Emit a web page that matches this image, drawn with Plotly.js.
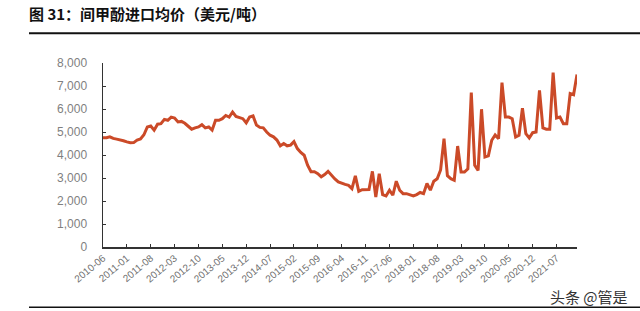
<!DOCTYPE html>
<html>
<head>
<meta charset="utf-8">
<script src="https://cdn.plot.ly/plotly-3.0.1.min.js"></script>
<style>html,body{margin:0;padding:0;background:#fff;}#chart{width:640px;height:311px;}</style>
</head>
<body>
<div id="chart"></div>
<script>
// Monthly series starting 2010-06
const startYear = 2010, startMonth = 6;
const prices = [
  4750, 4750, 4790, 4720, 4690, 4670, 4620, 4570, 4530, 4540,
  4650, 4700, 4880, 5220, 5260, 5080, 5340, 5360, 5550, 5510,
  5650, 5610, 5440, 5460, 5380, 5250, 5120, 5180, 5220, 5320,
  5180, 5220, 5080, 5510, 5510, 5580, 5720, 5650, 5870, 5680,
  5620, 5580, 5400, 5650, 5700, 5300, 5200, 5180, 5000, 4860,
  4790, 4650, 4400, 4500, 4400, 4430, 4580, 4280, 4110, 3990,
  3560, 3270, 3270, 3190, 3050, 3150, 3290, 3120, 2960, 2830,
  2760, 2720, 2680, 2540, 3090, 2420, 2490, 2490, 2500, 3290,
  2170, 3190, 2280, 2220, 2470, 2250, 2860, 2470, 2320, 2320,
  2280, 2220, 2280, 2370, 2320, 2760, 2470, 2860, 2970, 3350,
  4710, 3100, 2970, 2900, 4390, 3260, 3260, 3400, 6710, 3550,
  3330, 5990, 3910, 3960, 4640, 4870, 4710, 7150, 5650, 5650,
  5580, 4780, 4860, 6040, 4930, 4740, 4970, 5000, 6810, 5180,
  5120, 5120, 7580, 5610, 5650, 5360, 5360, 6670, 6620, 7500
];
const tickLabels = ["2010-06","2011-01","2011-08","2012-03","2012-10","2013-05","2013-12","2014-07","2015-02","2015-09","2016-04","2016-11","2017-06","2018-01","2018-08","2019-03","2019-10","2020-05","2020-12","2021-07"];
const yTicks = [0,1000,2000,3000,4000,5000,6000,7000,8000];

const months = [];
for (let i = 0; i < prices.length; i++) {
  const m = startMonth - 1 + i;
  const y = startYear + Math.floor(m / 12);
  const mm = (m % 12) + 1;
  months.push(y + "-" + (mm < 10 ? "0" + mm : "" + mm));
}

const L = 103, R = 577, T = 62.7, B = 246.7;
const W = 640, H = 311;
const px = v => (v - L) / (R - L);
const py = v => (B - v) / (B - T);

const trace = {
  x: months, y: prices, type: 'scatter', mode: 'lines',
  line: {color: '#CB4A28', width: 3}, hoverinfo: 'skip'
};

const layout = {
  width: W, height: H,
  margin: {l: L, r: W - R, t: T, b: H - B},
  paper_bgcolor: '#fff', plot_bgcolor: '#fff',
  showlegend: false,
  font: {family: 'Liberation Sans, Arial, sans-serif'},
  title: {
    text: '<b>图 31：间甲酚进口均价（美元/吨）</b>',
    font: {family: 'Noto Sans CJK SC', size: 15, color: '#111'},
    x: 29 / W, xanchor: 'left', xref: 'container',
    y: 1 - 15 / H, yanchor: 'middle', yref: 'container'
  },
  xaxis: {
    type: 'category', categoryorder: 'array', categoryarray: months,
    range: [0, prices.length - 1],
    tickmode: 'array', tickvals: tickLabels, ticktext: tickLabels,
    showgrid: false, zeroline: false,
    showline: true, linecolor: '#333', linewidth: 1.5,
    ticks: 'inside', ticklen: 3, tickcolor: '#333', tickwidth: 1,
    tickangle: -40,
    tickfont: {size: 10, color: '#6f6f6f', family: 'Liberation Sans, Arial, sans-serif'}
  },
  yaxis: {
    range: [0, 8000], tickmode: 'array', tickvals: yTicks,
    tickformat: ',d',
    showgrid: false, zeroline: false,
    showline: true, linecolor: '#333', linewidth: 1.5,
    ticks: 'inside', ticklen: 3, tickcolor: '#333', tickwidth: 1,
    ticklabelstandoff: 12,
    tickfont: {size: 12, color: '#7f7f7f', family: 'Liberation Sans, Arial, sans-serif'}
  },
  shapes: [
    {type: 'line', xref: 'paper', yref: 'paper', x0: px(29), x1: px(640), y0: py(33), y1: py(33), line: {color: '#111', width: 2}},
    {type: 'line', xref: 'paper', yref: 'paper', x0: px(29), x1: px(640), y0: py(307), y1: py(307), line: {color: '#111', width: 1.5}}
  ],
  annotations: [
    {xref: 'paper', yref: 'paper', x: px(630), y: py(296), xanchor: 'right', yanchor: 'middle', showarrow: false,
     text: '头条 @管是', font: {family: 'Noto Sans CJK SC', size: 15, color: '#333'}}
  ]
};

Plotly.newPlot('chart', [trace], layout, {staticPlot: true, displayModeBar: false});
</script>
</body>
</html>
